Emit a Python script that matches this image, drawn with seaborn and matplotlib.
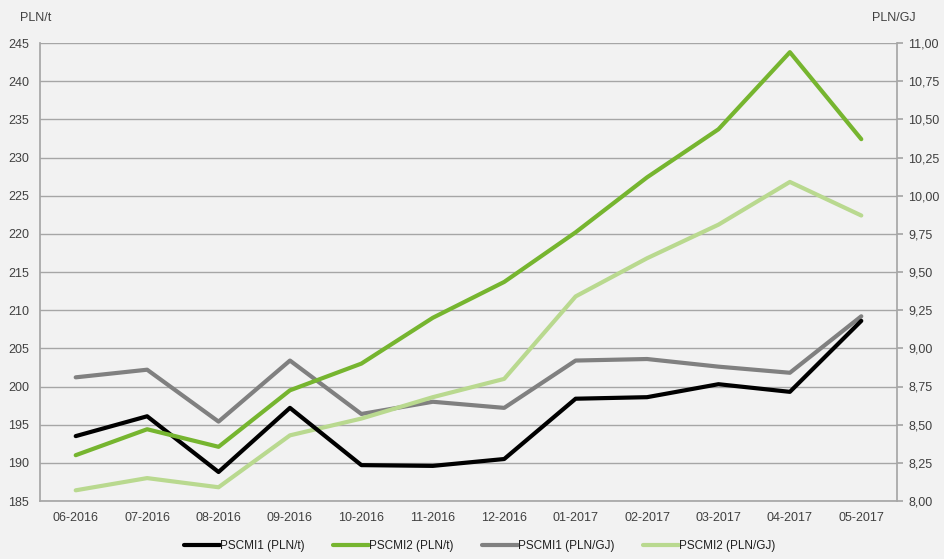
import matplotlib
matplotlib.use("Agg")
import matplotlib.pyplot as plt
import seaborn as sns
import pandas as pd
import numpy as np
from matplotlib.ticker import FuncFormatter, MultipleLocator

months = ["06-2016", "07-2016", "08-2016", "09-2016", "10-2016", "11-2016",
          "12-2016", "01-2017", "02-2017", "03-2017", "04-2017", "05-2017"]
pscmi1_t = [193.5, 196.1, 188.8, 197.2, 189.7, 189.6, 190.5, 198.4, 198.6, 200.3, 199.3, 208.6]
pscmi2_t = [191.0, 194.4, 192.1, 199.5, 203.0, 209.0, 213.7, 220.2, 227.4, 233.7, 243.8, 232.4]
pscmi1_gj = [8.81, 8.86, 8.52, 8.92, 8.57, 8.65, 8.61, 8.92, 8.93, 8.88, 8.84, 9.21]
pscmi2_gj = [8.07, 8.15, 8.09, 8.43, 8.54, 8.68, 8.80, 9.34, 9.59, 9.81, 10.09, 9.87]

labels = ["PSCMI1 (PLN/t)", "PSCMI2 (PLN/t)", "PSCMI1 (PLN/GJ)", "PSCMI2 (PLN/GJ)"]
colors = ["#000000", "#76b52f", "#808080", "#b9d98f"]

sns.set_theme(style="white")
plt.rcParams['font.family'] = ['Liberation Sans', 'DejaVu Sans']

bg = "#f2f2f2"
fig = plt.figure(figsize=(9.45, 5.59), dpi=100, facecolor=bg)
ax = fig.add_axes([40/945, 1-501/559, (897-40)/945, (501-43)/559])
ax.set_facecolor(bg)
ax2 = ax.twinx()

x = np.arange(len(months))
df_t = pd.DataFrame({"x": x, labels[0]: pscmi1_t, labels[1]: pscmi2_t})
df_gj = pd.DataFrame({"x": x, labels[2]: pscmi1_gj, labels[3]: pscmi2_gj})

lw = 3.0
sns.lineplot(data=df_gj, x="x", y=labels[2], ax=ax2, color=colors[2], lw=lw, label=labels[2], legend=False)
sns.lineplot(data=df_gj, x="x", y=labels[3], ax=ax2, color=colors[3], lw=lw, label=labels[3], legend=False)
sns.lineplot(data=df_t, x="x", y=labels[0], ax=ax, color=colors[0], lw=lw, label=labels[0], legend=False)
sns.lineplot(data=df_t, x="x", y=labels[1], ax=ax, color=colors[1], lw=lw, label=labels[1], legend=False)

# put primary axis lines above the twin axis
ax.set_zorder(ax2.get_zorder() + 1)
ax.patch.set_visible(False)
ax2.patch.set_visible(True)
ax2.patch.set_facecolor(bg)

ax.set_xlim(-0.5, len(months) - 0.5)
ax.set_ylim(185, 245)
ax2.set_ylim(8.0, 11.0)
ax.yaxis.set_major_locator(MultipleLocator(5))
ax2.yaxis.set_major_locator(MultipleLocator(0.25))
ax2.yaxis.set_major_formatter(FuncFormatter(lambda v, p: f"{v:.2f}".replace(".", ",")))
ax.set_xticks(x)
ax.set_xticklabels(months)
ax.set_xlabel("")
ax.set_ylabel("")
ax2.set_ylabel("")

tc = "#404040"
for a in (ax, ax2):
    for s in a.spines.values():
        s.set_visible(False)
ax.spines["left"].set_visible(True)
ax.spines["bottom"].set_visible(True)
ax.spines["left"].set_color("#a6a6a6")
ax.spines["bottom"].set_color("#a6a6a6")
ax2.spines["right"].set_visible(True)
ax2.spines["right"].set_color("#a6a6a6")

ax2.grid(True, axis="y", color="#a6a6a6", lw=1.0)
ax.grid(False)
ax2.set_axisbelow(True)

ax.tick_params(axis="y", length=0, labelsize=9, colors=tc, pad=8)
ax.tick_params(axis="x", length=0, labelsize=9, colors=tc, pad=8)
ax2.tick_params(axis="y", length=4, color="#a6a6a6", labelsize=9, labelcolor=tc, pad=4)

fig.text(20/945, 1-18/559, "PLN/t", fontsize=9, color=tc, va="center", ha="left")
fig.text(916/945, 1-18/559, "PLN/GJ", fontsize=9, color=tc, va="center", ha="right")

h1, l1 = ax.get_legend_handles_labels()
h2, l2 = ax2.get_legend_handles_labels()
handles = h1 + h2
labs = l1 + l2
fig.legend(handles, labs, loc="center", bbox_to_anchor=(480/945, 1-546/559), ncol=4,
           frameon=False, fontsize=8.5, handlelength=3.0, handletextpad=0.05,
           columnspacing=2.4, labelcolor="#202020")

fig.savefig("out.png", dpi=100, facecolor=bg)
